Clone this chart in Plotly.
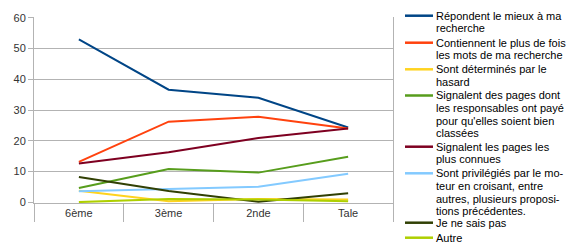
import plotly.graph_objects as go

categories = ["6ème", "3ème", "2nde", "Tale"]

series_names = [
    "Répondent le mieux à ma recherche",
    "Contiennent le plus de fois les mots de ma recherche",
    "Sont déterminés par le hasard",
    "Signalent des pages dont les responsables ont payé pour qu'elles soient bien classées",
    "Signalent les pages les plus connues",
    "Sont privilégiés par le moteur en croisant, entre autres, plusieurs propositions précédentes.",
    "Je ne sais pas",
    "Autre",
]
# legend labels as wrapped in the reference
legend_lines = [
    ["Répondent le mieux à ma", "recherche"],
    ["Contiennent le plus de fois", "les mots de ma recherche"],
    ["Sont déterminés par le", "hasard"],
    ["Signalent des pages dont", "les responsables ont payé", "pour qu'elles soient bien", "classées"],
    ["Signalent les pages les", "plus connues"],
    ["Sont privilégiés par le mo-", "teur en croisant, entre", "autres, plusieurs proposi-", "tions précédentes."],
    ["Je ne sais pas"],
    ["Autre"],
]

v_mieux = [53.0, 36.6, 34.0, 24.3]
v_mots = [13.1, 26.2, 27.8, 24.0]
v_hasard = [3.7, 0.3, 1.0, 0.8]
v_paye = [4.6, 10.8, 9.6, 14.8]
v_connues = [12.6, 16.2, 20.9, 24.0]
v_croisant = [3.5, 4.3, 5.0, 9.2]
v_nsp = [8.2, 3.6, 0.1, 2.9]
v_autre = [0.0, 1.0, 0.8, 0.3]

values = [v_mieux, v_mots, v_hasard, v_paye, v_connues, v_croisant, v_nsp, v_autre]
colors = ["#004586", "#ff420e", "#ffd320", "#579d1c", "#7e0021", "#83caff", "#314004", "#aecf00"]

W, H = 580, 249
L, R, T, B = 34, 187, 17, 46
PW, PH = W - L - R, H - T - B


def px_x(px):
    return (px - L) / PW


def px_y(py):
    return (H - B - py) / PH


fig = go.Figure()
for name, vals, col in zip(series_names, values, colors):
    fig.add_trace(go.Scatter(x=categories, y=vals, mode="lines", name=name,
                             line=dict(color=col, width=2), showlegend=False))

# custom legend (compact, like the reference)
entry_y = [15.7, 42.7, 69.3, 95.5, 146.7, 173.3, 222.7, 237.7]
line_gap = 12.6
shapes = []
annotations = []
for lines, col, y0 in zip(legend_lines, colors, entry_y):
    shapes.append(dict(type="line", xref="paper", yref="paper",
                       x0=px_x(405), x1=px_x(433), y0=px_y(y0), y1=px_y(y0),
                       line=dict(color=col, width=2.5)))
    for i, txt in enumerate(lines):
        annotations.append(dict(text=txt, xref="paper", yref="paper",
                                x=px_x(434), y=px_y(y0 + i * line_gap),
                                xanchor="left", yanchor="middle", showarrow=False,
                                font=dict(size=11, color="#000000")))

fig.update_layout(
    width=W, height=H,
    margin=dict(l=L, r=R, t=T, b=B),
    paper_bgcolor="white", plot_bgcolor="white",
    font=dict(family="Liberation Sans, Arial, sans-serif", size=11, color="#333333"),
    showlegend=False,
    shapes=shapes,
    annotations=annotations,
)
fig.update_xaxes(
    type="category", tickson="boundaries", ticks="outside", ticklen=18,
    tickcolor="#b3b3b3", showline=True, linecolor="#b3b3b3", showgrid=False,
    tickfont=dict(size=11, color="#333333"), range=[-0.5, 3.5],
)
fig.update_yaxes(
    range=[-0.3, 60.3], dtick=10, tick0=0, showgrid=True, gridcolor="#b3b3b3",
    showline=True, linecolor="#b3b3b3", mirror=True, ticks="outside", ticklen=5,
    tickcolor="#b3b3b3", zeroline=False, tickfont=dict(size=11, color="#333333"),
)

fig.write_html("out.html")
